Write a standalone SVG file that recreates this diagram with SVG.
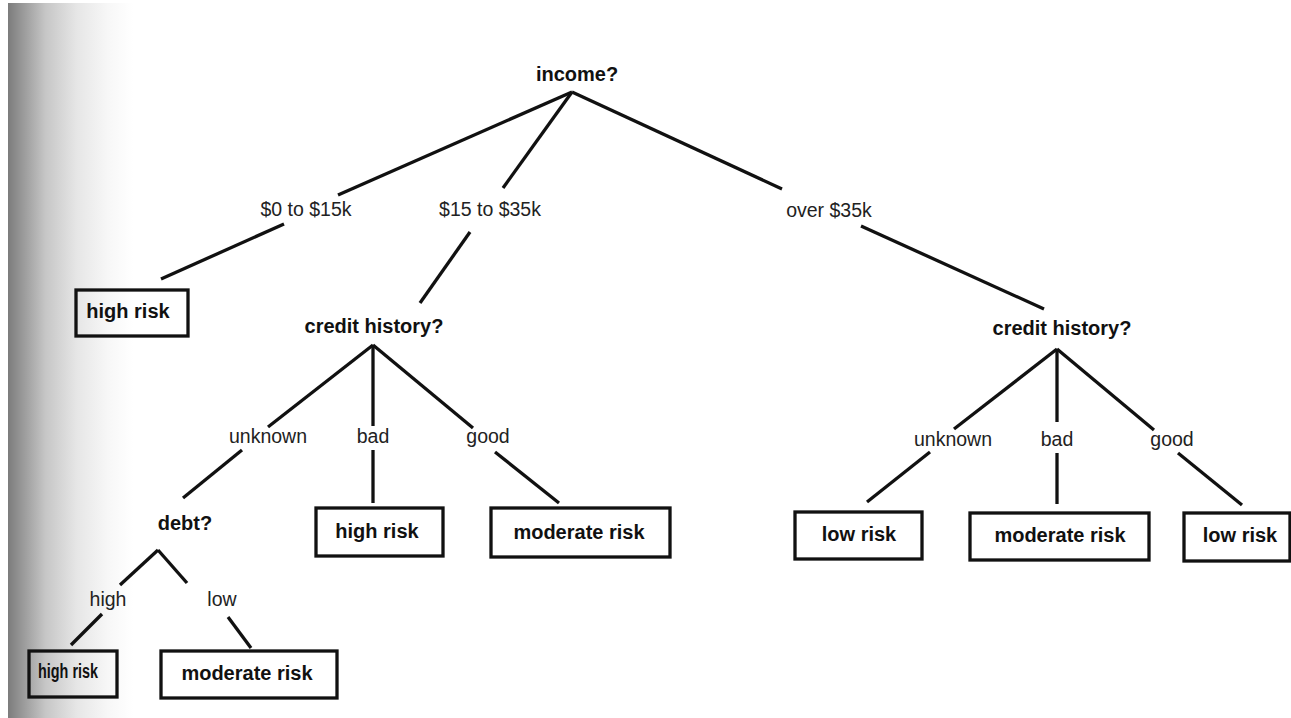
<svg xmlns="http://www.w3.org/2000/svg" width="1291" height="718" viewBox="0 0 1291 718">
  <defs>
    <linearGradient id="edgeShade" x1="0" y1="0" x2="1" y2="0">
      <stop offset="0" stop-color="#7c7c7c"/>
      <stop offset="0.1" stop-color="#959595"/>
      <stop offset="0.3" stop-color="#c6c6c6"/>
      <stop offset="0.55" stop-color="#e6e6e6"/>
      <stop offset="0.8" stop-color="#f7f7f7"/>
      <stop offset="1" stop-color="#ffffff"/>
    </linearGradient>
    <style>
      .q { font-family: "Liberation Sans", Arial, sans-serif; font-weight: bold; font-size: 20px; fill: #111; text-anchor: middle; }
      .lbl { font-family: "Liberation Sans", Arial, sans-serif; font-size: 19.5px; fill: #222; text-anchor: middle; }
      .leaf rect { fill: none; stroke: #111; stroke-width: 3.3; }
      .leaf text { font-family: "Liberation Sans", Arial, sans-serif; font-weight: bold; font-size: 20px; fill: #111; text-anchor: middle; }
      #edges line { stroke: #111; stroke-width: 3.3; stroke-linecap: butt; }
    </style>
  </defs>

  <!-- page background with darkened binding edge -->
  <rect width="1291" height="718" fill="#ffffff"/>
  <rect x="8" y="3" width="125" height="715" fill="url(#edgeShade)"/>

  <!-- connectors -->
  <g id="edges">
    <!-- income? -->
    <line x1="572" y1="92" x2="338" y2="195"/>
    <line x1="284" y1="224" x2="161" y2="279"/>
    <line x1="572" y1="92" x2="503" y2="188"/>
    <line x1="470" y1="232" x2="420" y2="303"/>
    <line x1="572" y1="92" x2="782" y2="189"/>
    <line x1="861" y1="226" x2="1044" y2="309"/>
    <!-- credit history? (middle income) -->
    <line x1="373" y1="345" x2="268" y2="427"/>
    <line x1="242" y1="450" x2="183" y2="498"/>
    <line x1="373" y1="345" x2="373" y2="426"/>
    <line x1="373" y1="450" x2="373" y2="503"/>
    <line x1="373" y1="345" x2="473" y2="428"/>
    <line x1="495" y1="452" x2="559" y2="503"/>
    <!-- credit history? (high income) -->
    <line x1="1057" y1="349" x2="954" y2="429"/>
    <line x1="930" y1="452" x2="867" y2="502"/>
    <line x1="1057" y1="349" x2="1057" y2="422"/>
    <line x1="1057" y1="453" x2="1057" y2="504"/>
    <line x1="1057" y1="349" x2="1154" y2="430"/>
    <line x1="1178" y1="453" x2="1242" y2="505"/>
    <!-- debt? -->
    <line x1="158" y1="550" x2="120" y2="585"/>
    <line x1="102" y1="614" x2="71" y2="645"/>
    <line x1="158" y1="550" x2="187" y2="583"/>
    <line x1="228" y1="617" x2="251" y2="648"/>
  </g>

  <!-- branch labels -->
  <g id="branch-labels">
    <text class="lbl" x="306" y="216">$0 to $15k</text>
    <text class="lbl" x="490" y="216">$15 to $35k</text>
    <text class="lbl" x="829" y="217">over $35k</text>
    <text class="lbl" x="268" y="443">unknown</text>
    <text class="lbl" x="373" y="443">bad</text>
    <text class="lbl" x="488" y="443">good</text>
    <text class="lbl" x="953" y="446">unknown</text>
    <text class="lbl" x="1057" y="446">bad</text>
    <text class="lbl" x="1172" y="446">good</text>
    <text class="lbl" x="108" y="606">high</text>
    <text class="lbl" x="222" y="606">low</text>
  </g>

  <!-- decision nodes -->
  <g id="node-income"><text class="q" x="577" y="81">income?</text></g>
  <g id="node-credit-mid"><text class="q" x="374" y="333">credit history?</text></g>
  <g id="node-credit-high"><text class="q" x="1062" y="335">credit history?</text></g>
  <g id="node-debt"><text class="q" x="185" y="530">debt?</text></g>

  <!-- leaf nodes -->
  <g id="leaf-low-income" class="leaf">
    <rect x="76" y="290" width="112" height="46"/>
    <text x="128" y="318">high risk</text>
  </g>
  <g id="leaf-credit-bad" class="leaf">
    <rect x="316" y="508" width="127" height="48"/>
    <text x="377" y="538">high risk</text>
  </g>
  <g id="leaf-credit-good" class="leaf">
    <rect x="491" y="508" width="179" height="49"/>
    <text x="579" y="539">moderate risk</text>
  </g>
  <g id="leaf-high-unknown" class="leaf">
    <rect x="795" y="512" width="127" height="47"/>
    <text x="859" y="541">low risk</text>
  </g>
  <g id="leaf-high-bad" class="leaf">
    <rect x="970" y="513" width="179" height="47"/>
    <text x="1060" y="542">moderate risk</text>
  </g>
  <g id="leaf-high-good" class="leaf">
    <rect x="1184" y="513" width="106" height="48"/>
    <text x="1240" y="542">low risk</text>
  </g>
  <g id="leaf-debt-high" class="leaf">
    <rect x="29" y="651" width="88" height="46"/>
    <text x="68" y="678" textLength="60" lengthAdjust="spacingAndGlyphs">high risk</text>
  </g>
  <g id="leaf-debt-low" class="leaf">
    <rect x="161" y="651" width="176" height="47"/>
    <text x="247" y="680">moderate risk</text>
  </g>
</svg>
